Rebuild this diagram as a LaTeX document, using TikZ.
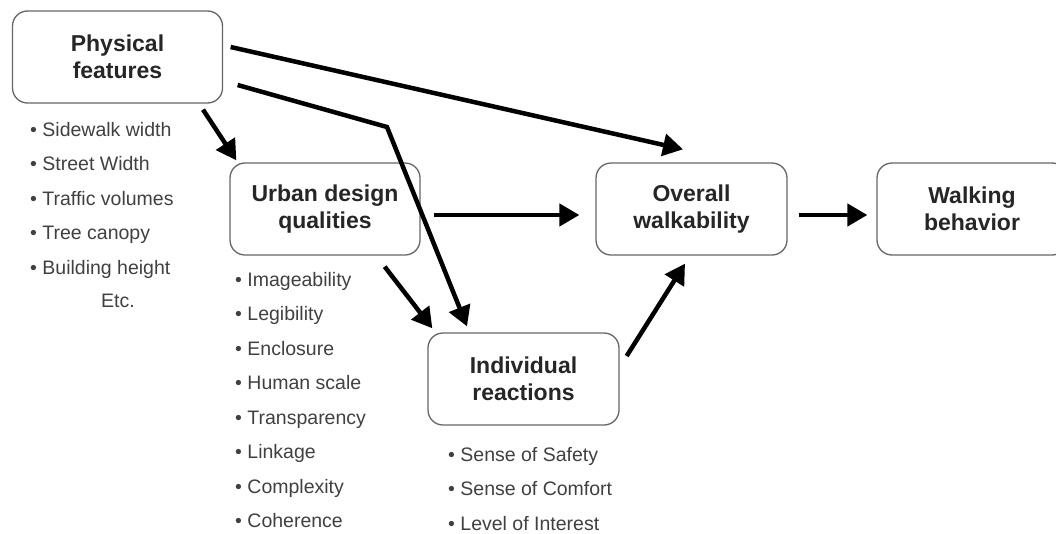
\documentclass[tikz,border=0pt]{standalone}
\usepackage{fontspec}
\setmainfont{Liberation Sans}
\usetikzlibrary{arrows.meta}

\tikzset{
  box/.style={draw=black!60, line width=1.3pt, rounded corners=15pt,
    minimum height=92pt, align=center, inner sep=0pt,
    font=\bfseries\fontsize{23}{27}\selectfont, text=black!85},
  flow/.style={line width=4.5pt, -{Triangle[length=20pt,width=22pt]}},
  items/.style={align=left, anchor=north west, inner sep=0pt,
    font=\fontsize{19.5}{34.5}\selectfont, text=black!75}
}

\begin{document}
\begin{tikzpicture}[x=1pt,y=-1pt]
\useasboundingbox (0,0) rectangle (1056,533);

% boxes
\node[box, minimum width=210pt] (phys) at (117.5,57) {Physical\\features};
\node[box, minimum width=190pt] (urban) at (325,209) {Urban design\\qualities};
\node[box, minimum width=191pt] (over) at (691.5,209) {Overall\\walkability};
\node[box, minimum width=190pt] (walk) at (972,209) {Walking\\behavior};
\node[box, minimum width=191pt] (indiv) at (523.5,379) {Individual\\reactions};

% lists
\node[items] (physlist) at (30,122) {\textbullet\ Sidewalk width\\
  \textbullet\ Street Width\\ \textbullet\ Traffic volumes\\
  \textbullet\ Tree canopy\\ \textbullet\ Building height};
\node[anchor=base, inner sep=0pt, font=\fontsize{19.5}{23}\selectfont,
  text=black!75] (etc) at (118,307) {Etc.};
\node[items] (urbanlist) at (235,272) {\textbullet\ Imageability\\
  \textbullet\ Legibility\\ \textbullet\ Enclosure\\
  \textbullet\ Human scale\\ \textbullet\ Transparency\\
  \textbullet\ Linkage\\ \textbullet\ Complexity\\ \textbullet\ Coherence};
\node[items] (indivlist) at (448,447) {\textbullet\ Sense of Safety\\
  \textbullet\ Sense of Comfort\\ \textbullet\ Level of Interest};

% arrows
\coordinate (bend) at (387,127);
\draw[flow] ([shift={(7.5,-10)}]phys.east) -- ([shift={(-8.5,-13)}]over.north);
\draw[flow] ([shift={(14.5,28)}]phys.east) -- (bend)
  -- ([shift={(-56.5,-6)}]indiv.north);
\draw[flow] ([shift={(85.5,6)}]phys.south) -- ([shift={(7,-2)}]urban.north west);
\draw[flow] ([shift={(13,6)}]urban.east) -- ([shift={(-16,6)}]over.west);
\draw[flow] ([shift={(-36,11)}]urban.south east) -- ([shift={(5,-4)}]indiv.north west);
\draw[flow] ([shift={(7,-23)}]indiv.east) -- ([shift={(-6.5,8)}]over.south);
\draw[flow] ([shift={(11,6)}]over.east) -- ([shift={(-9,6)}]walk.west);

\end{tikzpicture}
\end{document}
